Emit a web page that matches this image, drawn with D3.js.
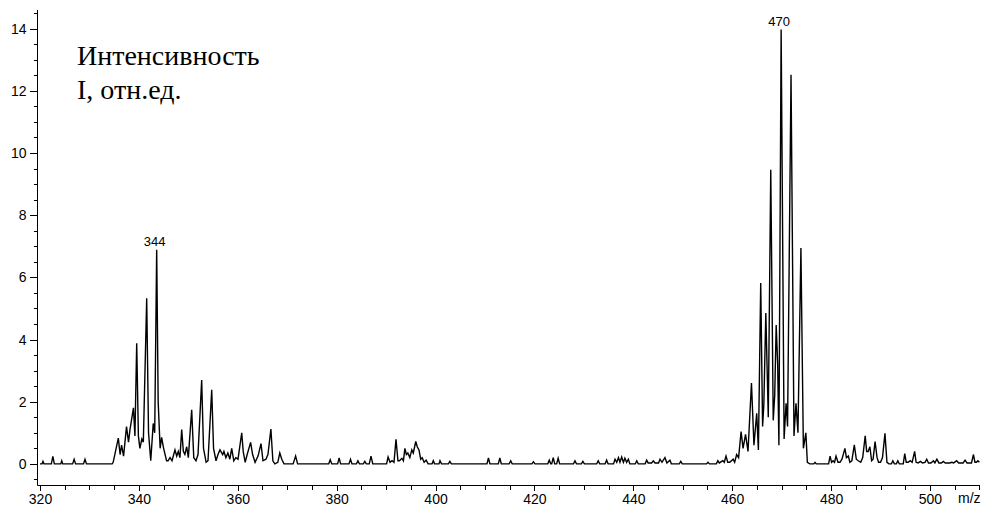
<!DOCTYPE html>
<html>
<head>
<meta charset="utf-8">
<script src="https://cdn.jsdelivr.net/npm/d3@7"></script>
<style>
  html, body { margin: 0; padding: 0; background: #fff; }
  #chart { width: 983px; height: 510px; }
</style>
</head>
<body>
<div id="chart"></div>
<script>
// m/z, I pairs, left to right
const noiseLow = [
  [320.0, 0], [320.4, 0], [320.6, 0.08], [320.8, 0], [322.3, 0], [322.6, 0.24], [322.9, 0],
  [324.2, 0], [324.4, 0.1], [324.6, 0], [326.6, 0], [326.9, 0.15], [327.2, 0],
  [328.8, 0], [329.1, 0.15], [329.4, 0], [334.6, 0], [334.8, 0.05]
];

const cluster344 = [
  [335.84, 0.83], [336.2, 0.3], [336.5, 0.6], [336.9, 0.25], [337.5, 1.2], [337.9, 0.7],
  [338.2, 1.1], [338.9, 1.8], [339.2, 0.9], [339.56, 3.88], [339.9, 0.9], [340.2, 0.5],
  [340.6, 0.8], [340.9, 0.7], [341.58, 5.33], [341.95, 1.0], [342.4, 0.1], [342.9, 1.3],
  [343.2, 1.0], [343.6, 6.89], [343.9, 2.0], [344.3, 0.5], [344.6, 0.85], [345.0, 0.5],
  [345.6, 0.1], [345.9, 0.1], [346.3, 0.2], [346.7, 0.1], [347.3, 0.45], [347.65, 0.25],
  [347.97, 0.4], [348.3, 0.2], [348.66, 1.1], [348.99, 0.4], [349.3, 0.3], [349.67, 0.55],
  [350.0, 0.2], [350.68, 1.74], [351.1, 0.2], [351.55, 0.1], [351.96, 0.3], [352.7, 2.7],
  [353.07, 0.5], [353.6, 0.05], [353.98, 0.1], [354.73, 2.38], [355.1, 0.5], [355.6, 0.1],
  [356.0, 0.3], [356.4, 0.45], [356.95, 0.3], [357.2, 0.4], [357.6, 0.2], [358.0, 0.35],
  [358.4, 0.15], [358.77, 0.5], [359.2, 0.1], [359.6, 0.2], [360.05, 0.15], [360.8, 1.0],
  [361.1, 0.4], [361.5, 0.05], [361.9, 0.3], [362.6, 0.69], [363.0, 0.3], [363.5, 0.05],
  [364.1, 0.25], [364.7, 0.65], [365.1, 0.1], [365.7, 0.15], [366.1, 0.3], [366.7, 1.12],
  [367.1, 0.1], [367.5, 0], [368.1, 0.05], [368.5, 0.35], [368.9, 0.15], [369.35, 0],
  [371.2, 0], [371.7, 0.25], [372.1, 0]
];

const noiseMid = [
  [378.4, 0], [378.7, 0.13], [379.0, 0], [380.2, 0], [380.5, 0.19], [380.8, 0],
  [382.5, 0], [382.8, 0.15], [383.1, 0], [384.0, 0], [384.3, 0.1], [384.6, 0],
  [385.4, 0], [385.7, 0.08], [386.0, 0], [386.6, 0], [386.95, 0.25], [387.3, 0],
  [390.1, 0], [390.4, 0.22], [390.8, 0.05], [391.2, 0.1], [391.6, 0.05], [392.0, 0.79],
  [392.4, 0.1], [392.7, 0.1], [393.2, 0.18], [393.5, 0.1], [393.8, 0.5], [394.1, 0.3],
  [394.4, 0.35], [394.8, 0.2], [395.2, 0.45], [395.5, 0.35], [396.0, 0.72], [396.3, 0.55],
  [396.65, 0.45], [397.0, 0.15], [397.3, 0.2], [397.7, 0.05], [398.1, 0.12], [398.5, 0],
  [399.3, 0], [399.55, 0.1], [399.8, 0], [400.7, 0], [400.9, 0.1], [401.2, 0],
  [402.6, 0], [402.9, 0.08], [403.2, 0], [410.4, 0], [410.7, 0.19], [411.0, 0],
  [412.7, 0], [413.0, 0.19], [413.3, 0], [414.9, 0], [415.2, 0.1], [415.5, 0],
  [419.5, 0], [419.8, 0.07], [420.1, 0], [422.7, 0], [423.0, 0.12], [423.3, 0],
  [423.5, 0], [423.8, 0.2], [424.1, 0], [424.5, 0], [424.8, 0.18], [425.1, 0],
  [427.9, 0], [428.2, 0.1], [428.5, 0], [429.5, 0], [429.8, 0.08], [430.1, 0],
  [432.6, 0], [432.9, 0.1], [433.2, 0], [434.3, 0], [434.6, 0.12], [434.9, 0],
  [436.0, 0], [436.3, 0.15], [436.65, 0.05], [437.0, 0.2], [437.3, 0.05], [437.65, 0.22],
  [438.0, 0.05], [438.3, 0.18], [438.65, 0.05], [439.0, 0.15], [439.3, 0],
  [440.4, 0], [440.7, 0.1], [441.0, 0], [442.4, 0], [442.7, 0.12], [443.0, 0.03],
  [443.7, 0.03], [444.05, 0.1], [444.4, 0.03], [445.1, 0.03], [445.4, 0.15], [445.8, 0.05],
  [446.4, 0.2], [446.8, 0.03], [447.4, 0.12], [447.7, 0], [449.3, 0], [449.6, 0.08],
  [449.9, 0], [454.8, 0], [455.1, 0.05], [455.4, 0]
];

const cluster470 = [
  [456.8, 0], [457.1, 0.1], [457.4, 0.03], [458.1, 0.1], [458.4, 0.05], [458.75, 0.25],
  [459.1, 0.05], [459.5, 0.05], [460.2, 0.15], [460.5, 0.05], [460.9, 0.3], [461.3, 0.2],
  [461.8, 1.04], [462.2, 0.5], [462.7, 0.95], [463.2, 0.4], [463.9, 2.6], [464.4, 0.6],
  [464.96, 1.63], [465.3, 0.45], [465.77, 5.82], [466.15, 1.2], [466.4, 1.9], [466.8, 4.85],
  [467.3, 1.5], [467.8, 9.46], [468.3, 1.4], [468.6, 2.2], [468.9, 4.47], [469.2, 3.2],
  [469.45, 0.6], [469.9, 13.97], [470.5, 0.8], [470.9, 1.95], [471.2, 1.2], [471.9, 12.52],
  [472.5, 0.9], [472.9, 1.95], [473.3, 1.0], [473.9, 6.94], [474.4, 0.5], [474.9, 1.0],
  [475.2, 0.05], [475.7, 0]
];

const noiseHigh = [
  [476.5, 0], [476.75, 0.05], [477.0, 0], [479.5, 0], [479.8, 0.25], [480.1, 0.05],
  [480.4, 0.1], [480.7, 0.05], [481.0, 0.25], [481.4, 0.05], [481.8, 0.05], [482.2, 0.15],
  [482.8, 0.5], [483.1, 0.2], [483.5, 0.25], [483.8, 0.05], [484.2, 0.1], [484.7, 0.61],
  [485.1, 0.15], [485.5, 0.1], [486.0, 0.05], [486.4, 0.2], [486.9, 0.9], [487.2, 0.4],
  [487.5, 0.4], [487.85, 0.55], [488.2, 0.1], [488.5, 0.15], [488.9, 0.72], [489.3, 0.2],
  [489.6, 0.05], [490.0, 0.05], [490.4, 0.2], [490.9, 0.98], [491.3, 0.05], [491.7, 0],
  [492.2, 0], [492.5, 0.1], [492.8, 0], [493.2, 0], [493.5, 0.1], [493.8, 0],
  [494.6, 0], [494.9, 0.33], [495.2, 0.05], [495.6, 0.05], [496.0, 0.1], [496.4, 0.05],
  [496.9, 0.4], [497.2, 0.05], [497.6, 0.03], [498.1, 0.08], [498.5, 0.03], [499.0, 0.05],
  [499.35, 0.15], [499.7, 0.03], [500.2, 0.03], [500.7, 0.1], [501.0, 0.03], [501.4, 0.15],
  [501.8, 0.03], [502.3, 0.03], [502.7, 0.08], [503.1, 0.03], [504.0, 0.03], [504.4, 0.05],
  [504.8, 0.03], [505.4, 0.1], [505.8, 0.03], [506.7, 0.03], [507.1, 0.12], [507.5, 0.03],
  [508.4, 0.03], [508.8, 0.3], [509.1, 0.05], [509.4, 0.05], [509.7, 0.1], [510.0, 0.05]
];

// labelled peaks
const peakLabels = [
  { text: '344', mz: 343.6, value: 6.89 },
  { text: '470', mz: 469.9, value: 13.97 }
];

const xMajorTicks = d3.range(320, 501, 20);
const xMinorTicks = d3.range(320, 511, 5);
const yMajorTicks = d3.range(0, 15, 2);
const yMinorTicks = d3.range(-0.5, 14.6, 0.5);

const titleLines = ['Интенсивность', 'I, отн.ед.'];
const xUnit = 'm/z';


const width = 983, height = 510;
const spectrum = [].concat(noiseLow, cluster344, noiseMid, cluster470, noiseHigh);

const x = d3.scaleLinear().domain([320, 510]).range([40, 979.4]);
const y = d3.scaleLinear().domain([-0.68, 14.6]).range([485, 10]);

const svg = d3.select('#chart').append('svg')
  .attr('width', width)
  .attr('height', height)
  .style('font-family', '"Liberation Sans", Arial, sans-serif');

const axisFont = 14;

// x axis: minor ticks every 5, labels every 20
const xAxisY = y.range()[0];
const xMinor = svg.append('g')
  .attr('transform', `translate(0, ${xAxisY})`)
  .call(d3.axisBottom(x).tickValues(xMinorTicks).tickSize(5).tickFormat(''));
xMinor.select('.domain').remove();

const xMajor = svg.append('g')
  .attr('transform', `translate(0, ${xAxisY})`)
  .call(d3.axisBottom(x).tickValues(xMajorTicks).tickSize(6).tickPadding(3).tickFormat(d3.format('d')));
xMajor.select('.domain').remove();
xMajor.selectAll('text').attr('font-size', axisFont).attr('fill', '#000');

svg.append('line')
  .attr('x1', 37.5).attr('x2', 980)
  .attr('y1', xAxisY + 0.5).attr('y2', xAxisY + 0.5)
  .attr('stroke', '#000');

svg.append('text')
  .attr('x', 958)
  .attr('y', xAxisY + 18)
  .attr('font-size', axisFont)
  .text(xUnit);

// y axis: minor ticks every 0.5, labels every 2
const yAxisX = 37.5;
const yMinor = svg.append('g')
  .attr('transform', `translate(${yAxisX}, 0)`)
  .call(d3.axisLeft(y).tickValues(yMinorTicks).tickSize(4).tickFormat(''));
yMinor.select('.domain').remove();

const yMajor = svg.append('g')
  .attr('transform', `translate(${yAxisX}, 0)`)
  .call(d3.axisLeft(y).tickValues(yMajorTicks).tickSize(8).tickPadding(3).tickFormat(d3.format('d')));
yMajor.select('.domain').remove();
yMajor.selectAll('text').attr('font-size', axisFont).attr('fill', '#000');

svg.append('line')
  .attr('x1', yAxisX).attr('x2', yAxisX)
  .attr('y1', y.range()[1]).attr('y2', xAxisY + 0.5)
  .attr('stroke', '#000');

svg.selectAll('.tick line').attr('stroke', '#000').attr('shape-rendering', 'crispEdges');

// spectrum
const line = d3.line()
  .x(d => x(d[0]))
  .y(d => y(d[1]));

svg.append('path')
  .datum(spectrum)
  .attr('d', line)
  .attr('fill', 'none')
  .attr('stroke', '#000')
  .attr('stroke-width', 1.4)
  .attr('stroke-linejoin', 'miter');

// peak labels
svg.selectAll('text.peak')
  .data(peakLabels)
  .enter()
  .append('text')
  .classed('peak', true)
  .attr('x', d => x(d.mz) - 2)
  .attr('y', d => y(d.value) - 4)
  .attr('text-anchor', 'middle')
  .attr('font-size', 13)
  .text(d => d.text);

// title in the upper left
svg.append('g')
  .selectAll('text')
  .data(titleLines)
  .enter()
  .append('text')
  .attr('x', 77)
  .attr('y', (d, i) => 65 + i * 34)
  .attr('font-family', '"Liberation Serif", "Times New Roman", serif')
  .attr('font-size', 28)
  .attr('fill', '#000')
  .text(d => d);
</script>
</body>
</html>
